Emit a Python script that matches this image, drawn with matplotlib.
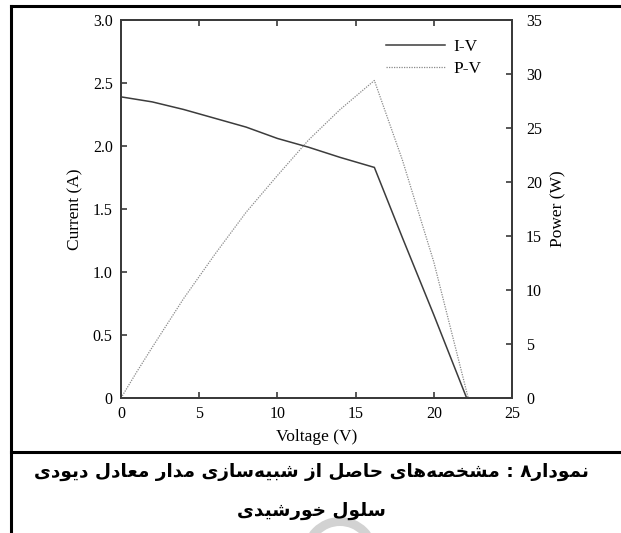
import matplotlib
matplotlib.use("Agg")
import matplotlib.pyplot as plt
from matplotlib import font_manager, ft2font
from matplotlib.font_manager import FontProperties
from matplotlib.patches import Wedge
from matplotlib.lines import Line2D

# ---- data ----
voltage = [0, 1, 2, 4, 6, 8, 10, 12, 14, 16.2, 18, 20, 22.1]
current = [2.39, 2.37, 2.35, 2.29, 2.22, 2.15, 2.06, 1.99, 1.91, 1.83, 1.27, 0.66, 0.0]
power_voltage = [0, 1, 2, 4, 6, 8, 10, 12, 14, 16.2, 18, 20, 22.2]
power = [0.0, 2.4, 4.7, 9.2, 13.3, 17.2, 20.6, 23.9, 26.7, 29.4, 22.0, 12.6, 0.0]

x_ticks = [0, 5, 10, 15, 20, 25]
current_ticks = [0, 0.5, 1.0, 1.5, 2.0, 2.5, 3.0]
current_tick_labels = ["0", "0.5", "1.0", "1.5", "2.0", "2.5", "3.0"]
power_ticks = [0, 5, 10, 15, 20, 25, 30, 35]

series_labels = ["I-V", "P-V"]
x_label = "Voltage (V)"
y_label_left = "Current (A)"
y_label_right = "Power (W)"
caption_lines = [
    "نمودار۸ : مشخصه\u200cهای حاصل از شبیه\u200cسازی مدار معادل دیودی",
    "سلول خورشیدی",
]

# ---- simple Persian shaping (contextual forms + visual order) ----
FORMS = {
    'ا': ('\uFE8D', '\uFE8E', None, None),
    'ب': ('\uFE8F', '\uFE90', '\uFE91', '\uFE92'),
    'ح': ('\uFEA1', '\uFEA2', '\uFEA3', '\uFEA4'),
    'خ': ('\uFEA5', '\uFEA6', '\uFEA7', '\uFEA8'),
    'د': ('\uFEA9', '\uFEAA', None, None),
    'ر': ('\uFEAD', '\uFEAE', None, None),
    'ز': ('\uFEAF', '\uFEB0', None, None),
    'س': ('\uFEB1', '\uFEB2', '\uFEB3', '\uFEB4'),
    'ش': ('\uFEB5', '\uFEB6', '\uFEB7', '\uFEB8'),
    'ص': ('\uFEB9', '\uFEBA', '\uFEBB', '\uFEBC'),
    'ع': ('\uFEC9', '\uFECA', '\uFECB', '\uFECC'),
    'ل': ('\uFEDD', '\uFEDE', '\uFEDF', '\uFEE0'),
    'م': ('\uFEE1', '\uFEE2', '\uFEE3', '\uFEE4'),
    'ن': ('\uFEE5', '\uFEE6', '\uFEE7', '\uFEE8'),
    'ه': ('\uFEE9', '\uFEEA', '\uFEEB', '\uFEEC'),
    'و': ('\uFEED', '\uFEEE', None, None),
    'ی': ('\uFBFC', '\uFBFD', '\uFBFE', '\uFBFF'),
}
YEH_FALLBACK = ('\uFEEF', '\uFEF0', '\uFEF3', '\uFEF4')


def charmap_of(prop):
    path = font_manager.findfont(prop, fallback_to_default=True)
    return set(ft2font.FT2Font(path).get_charmap().keys())


def shape(text, cmap):
    forms = dict(FORMS)
    if not all(ord(c) in cmap for c in FORMS['ی']):
        forms['ی'] = YEH_FALLBACK
    out = []
    n = len(text)
    for i, ch in enumerate(text):
        if ch not in forms:
            if ch != '\u200c':
                out.append(ch)
            continue
        iso, fin, ini, med = forms[ch]
        prev = text[i - 1] if i > 0 else ''
        nxt = text[i + 1] if i + 1 < n else ''
        join_prev = prev in forms and forms[prev][2] is not None
        join_next = ini is not None and nxt in forms
        if join_prev and join_next:
            out.append(med)
        elif join_prev:
            out.append(fin)
        elif join_next:
            out.append(ini)
        else:
            out.append(iso)
    return ''.join(reversed(out))


# ---- figure ----
W, H = 621, 533
fig = plt.figure(figsize=(W / 100, H / 100), dpi=100)

serif = "Liberation Serif"
tick_fs = 11.5
label_fs = 12.5

ax = fig.add_axes([121 / W, 1 - 398 / H, (512 - 121) / W, (398 - 20) / H])
ax2 = ax.twinx()

spine_color = "#3a3a3a"
for a in (ax, ax2):
    for s in a.spines.values():
        s.set_color(spine_color)
        s.set_linewidth(1.3)

l1, = ax.plot(voltage, current, color="#3c3c3c", lw=1.1, solid_joinstyle="miter")
l2, = ax2.plot(power_voltage, power, color="#8a8a8a", lw=0.9, linestyle=(0, (1, 1)))

ax.set_xlim(0, 25)
ax.set_ylim(0, 3.0)
ax2.set_ylim(0, 35)

ax.set_xticks(x_ticks)
ax.set_xticklabels([str(t) for t in x_ticks], family=serif, fontsize=tick_fs)
ax.set_yticks(current_ticks)
ax.set_yticklabels(current_tick_labels, family=serif, fontsize=tick_fs)
ax2.set_yticks(power_ticks)
ax2.set_yticklabels([str(t) for t in power_ticks], family=serif, fontsize=tick_fs)

ax.tick_params(axis="x", direction="in", length=4, width=1.2, color=spine_color,
               top=True, pad=6)
ax.tick_params(axis="y", direction="in", length=4, width=1.2, color=spine_color, pad=6)
ax2.tick_params(axis="y", direction="in", length=4, width=1.2, color=spine_color, pad=10)

ax.set_xlabel(x_label, family=serif, fontsize=label_fs, labelpad=5)
ax.set_ylabel(y_label_left, family=serif, fontsize=label_fs, labelpad=7)
ax2.set_ylabel(y_label_right, family=serif, fontsize=label_fs, labelpad=6)

leg = ax.legend([l1, l2], series_labels, loc="upper right", frameon=False,
                prop={"family": serif, "size": label_fs}, handlelength=3.4,
                handletextpad=0.5, borderaxespad=0.0, labelspacing=0.35,
                bbox_to_anchor=(0.94, 0.968))

# ---- frame lines ----
def px(x, y):
    return x / W, 1 - y / H

frame_kw = dict(color="black", lw=2.2, transform=fig.transFigure, solid_capstyle="projecting")
fig.add_artist(Line2D([px(11, 0)[0], 1.0], [px(0, 6)[1]] * 2, **frame_kw))
fig.add_artist(Line2D([px(11, 0)[0], 1.0], [px(0, 452)[1]] * 2, **frame_kw))
fig.add_artist(Line2D([px(11, 0)[0]] * 2, [px(0, 6)[1], 0.0], **frame_kw))

# ---- faint ring under the caption ----
ring = Wedge((340 / 100, (H - 555) / 100), 38 / 100, 0, 360, width=9 / 100,
             facecolor="#d2d2d2", edgecolor="none",
             transform=fig.dpi_scale_trans, zorder=0)
fig.add_artist(ring)

# ---- caption ----
cap_prop = FontProperties(family="DejaVu Sans", weight="bold")
cap_cmap = charmap_of(cap_prop)
needed = set(ord(c) for c in shape(''.join(caption_lines), cap_cmap))
if not needed.issubset(cap_cmap):
    cap_prop = FontProperties(family="DejaVu Sans")
    cap_cmap = charmap_of(cap_prop)

for text, ycap in zip(caption_lines, (472, 511)):
    fig.text(311 / W, 1 - ycap / H, shape(text, cap_cmap), ha="center", va="center",
             fontproperties=cap_prop, fontsize=13.3, zorder=3)

fig.savefig("out.png", dpi=100, facecolor="white")
